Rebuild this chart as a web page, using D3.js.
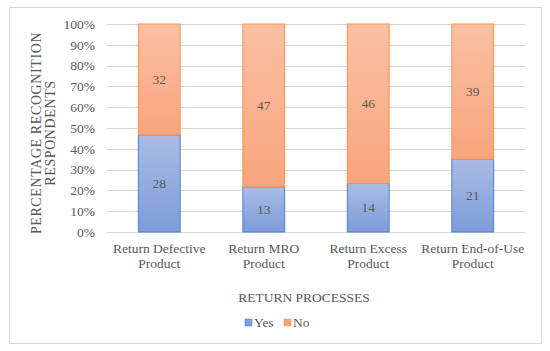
<!DOCTYPE html>
<html>
<head>
<meta charset="utf-8">
<script src="https://cdn.jsdelivr.net/npm/d3@7"></script>
<style>
  body { margin: 0; background: #fff; }
  text { font-family: "Liberation Serif", "DejaVu Serif", serif; fill: #595959; }
</style>
</head>
<body>
<div id="chart"></div>
<script>
// categories and counts (Yes / No)
var categories = [["Return Defective", "Product"], ["Return MRO", "Product"], ["Return Excess", "Product"], ["Return End-of-Use", "Product"]];
var yesValues = [28, 13, 14, 21];
var noValues = [32, 47, 46, 39];
var tickValues = [0, 0.1, 0.2, 0.3, 0.4, 0.5, 0.6, 0.7, 0.8, 0.9, 1];
var seriesNames = ["Yes", "No"];

var svgWidth = 550, svgHeight = 351;
var margin = { top: 24, right: 25, bottom: 119, left: 107 };
var width = svgWidth - margin.left - margin.right;
var height = svgHeight - margin.top - margin.bottom;

var svg = d3.select("#chart").append("svg")
  .attr("width", svgWidth)
  .attr("height", svgHeight);

// gradients like the spreadsheet fill
var defs = svg.append("defs");
function grad(id, top, bottom) {
  var g = defs.append("linearGradient").attr("id", id)
    .attr("x1", 0).attr("y1", 0).attr("x2", 0).attr("y2", 1);
  g.append("stop").attr("offset", "0%").attr("stop-color", top);
  g.append("stop").attr("offset", "100%").attr("stop-color", bottom);
}
grad("gYes", "#a9bce4", "#7d9cd8");
grad("gNo", "#fbc0a3", "#f8a57c");

// outer frame
svg.append("rect")
  .attr("x", 9.5).attr("y", 7.5)
  .attr("width", 532).attr("height", 336)
  .attr("fill", "#fff")
  .attr("stroke", "#d9d9d9");

var chart = svg.append("g")
  .attr("transform", `translate(${margin.left}, ${margin.top})`);

var x = d3.scaleBand()
  .domain(d3.range(categories.length))
  .range([0, width])
  .paddingInner(0.6)
  .paddingOuter(0.3);

var y = d3.scaleLinear().domain([0, 1]).range([height, 0]);

// gridlines
chart.selectAll(".grid")
  .data(tickValues)
  .enter().append("line")
  .attr("x1", 0).attr("x2", width)
  .attr("y1", d => Math.round(y(d)) + 0.5)
  .attr("y2", d => Math.round(y(d)) + 0.5)
  .attr("stroke", "#d9d9d9")
  .attr("stroke-width", 1);

// y axis labels
var yAxis = d3.axisLeft(y).tickValues(tickValues).tickFormat(d3.format(".0%")).tickSize(0).tickPadding(12);
var yg = chart.append("g").call(yAxis);
yg.select(".domain").remove();
yg.selectAll("text").attr("font-size", 13.5).attr("font-family", null).attr("fill", "#595959");

// stacked data
var rows = categories.map((c, i) => ({ i: i, yes: yesValues[i], no: noValues[i], total: yesValues[i] + noValues[i] }));

var bars = chart.selectAll(".bar").data(rows).enter().append("g");

bars.append("rect")
  .attr("x", d => x(d.i))
  .attr("width", x.bandwidth())
  .attr("y", d => y(d.yes / d.total))
  .attr("height", d => y(0) - y(d.yes / d.total))
  .attr("fill", "url(#gYes)")
  .attr("stroke", "#4a7fd4")
  .attr("stroke-width", 1);

bars.append("rect")
  .attr("x", d => x(d.i))
  .attr("width", x.bandwidth())
  .attr("y", y(1))
  .attr("height", d => y(d.yes / d.total) - y(1))
  .attr("fill", "url(#gNo)")
  .attr("stroke", "#f5924e")
  .attr("stroke-width", 1);

// value labels
bars.append("text")
  .attr("x", d => x(d.i) + x.bandwidth() / 2)
  .attr("y", d => y(d.yes / d.total / 2))
  .attr("dy", "0.35em")
  .attr("text-anchor", "middle")
  .attr("font-size", 13.5)
  .attr("fill", "#404040")
  .text(d => d.yes);

bars.append("text")
  .attr("x", d => x(d.i) + x.bandwidth() / 2)
  .attr("y", d => y((d.yes / d.total + 1) / 2))
  .attr("dy", "0.35em")
  .attr("text-anchor", "middle")
  .attr("font-size", 13.5)
  .attr("fill", "#404040")
  .text(d => d.no);

// category labels
var catG = chart.selectAll(".cat").data(categories).enter().append("text")
  .attr("text-anchor", "middle")
  .attr("font-size", 13.5)
  .attr("transform", (d, i) => `translate(${x(i) + x.bandwidth() / 2}, ${height + 21})`);
catG.selectAll("tspan").data(d => d).enter().append("tspan")
  .attr("x", 0)
  .attr("dy", (d, j) => j === 0 ? 0 : 15)
  .text(d => d);

// y axis title
var yTitle = svg.append("text")
  .attr("transform", `translate(41, 133) rotate(-90)`)
  .attr("text-anchor", "middle")
  .attr("font-size", 14)
  .attr("letter-spacing", 0.6);
yTitle.append("tspan").attr("x", 0).attr("dy", 0).text("PERCENTAGE RECOGNITION");
yTitle.append("tspan").attr("x", 0).attr("dy", 14).text("RESPONDENTS");

// x axis title
svg.append("text")
  .attr("x", 304)
  .attr("y", 302)
  .attr("text-anchor", "middle")
  .attr("font-size", 13.5)
  .text("RETURN PROCESSES");

// legend
var legendColors = ["#7d9cd8", "#f8a57c"];
var legendStrokes = ["#4a7fd4", "#f5924e"];
var legendX = [245, 284];
var lg = svg.selectAll(".legend").data(seriesNames).enter().append("g")
  .attr("transform", (d, i) => `translate(${legendX[i]}, 319)`);
lg.append("rect")
  .attr("width", 7).attr("height", 7)
  .attr("fill", (d, i) => legendColors[i])
  .attr("stroke", (d, i) => legendStrokes[i])
  .attr("stroke-width", 0.5);
lg.append("text")
  .attr("x", 9).attr("y", 8)
  .attr("font-size", 13.5)
  .text(d => d);
</script>
</body>
</html>
